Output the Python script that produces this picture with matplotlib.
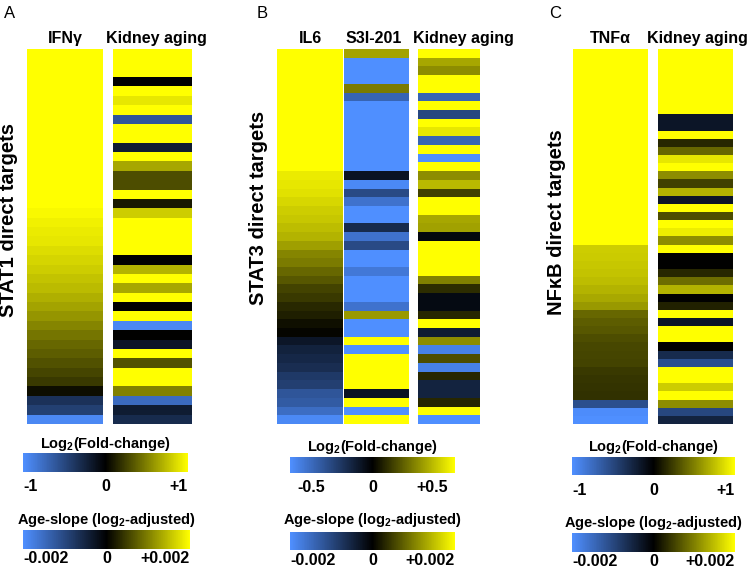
import numpy as np
import matplotlib
matplotlib.use('Agg')
import matplotlib.pyplot as plt
from matplotlib.colors import LinearSegmentedColormap, Normalize
from matplotlib.cm import ScalarMappable
import matplotlib.transforms as mtransforms

plt.rcParams['font.family'] = ['Liberation Sans', 'DejaVu Sans']
plt.rcParams['mathtext.fontset'] = 'custom'
plt.rcParams['mathtext.rm'] = 'Liberation Sans:bold'
plt.rcParams['mathtext.bf'] = 'Liberation Sans:bold'
plt.rcParams['mathtext.it'] = 'Liberation Sans:bold'

# ---------------- data ----------------
# Panel A: STAT1 direct targets (40 genes)
ifng_log2fc = [1.0, 1.0, 1.0, 1.0, 1.0, 1.0, 1.0, 1.0, 1.0, 1.0,
               1.0, 1.0, 1.0, 1.0, 1.0, 1.0, 1.0, 0.97, 0.94, 0.92,
               0.90, 0.86, 0.83, 0.80, 0.76, 0.73, 0.68, 0.64, 0.58, 0.52,
               0.46, 0.40, 0.36, 0.32, 0.27, 0.22, 0.05, -0.35, -0.45, -0.95]
kidney_a_slope = [0.0025, 0.0022, 0.0020, 0.0, 0.0020, 0.0018, 0.0023, -0.0012, 0.0021, 0.0024,
                  -0.0004, 0.0020, 0.0013, 0.0006, 0.0006, 0.0022, 0.0002, 0.0016, 0.0020, 0.0023,
                  0.0021, 0.0024, 0.0, 0.0014, 0.0022, 0.0013, 0.0021, 0.0, 0.0023, -0.0019,
                  0.0, -0.0003, 0.0022, 0.00065, 0.0021, 0.0023, 0.0010, -0.0015, -0.0004, -0.0006]

# Panel B: STAT3 direct targets (43 genes)
il6_log2fc = [0.5, 0.5, 0.5, 0.5, 0.5, 0.5, 0.5, 0.5, 0.5, 0.5,
              0.5, 0.5, 0.5, 0.5, 0.46, 0.45, 0.44, 0.42, 0.40, 0.39,
              0.37, 0.35, 0.31, 0.26, 0.24, 0.20, 0.17, 0.13, 0.11, 0.08,
              0.06, 0.03, 0.01, -0.08, -0.12, -0.14, -0.16, -0.20, -0.22, -0.30,
              -0.32, -0.38, -0.48]
s3i201_log2fc = [0.32, -0.5, -0.5, -0.5, 0.24, -0.35, -0.5, -0.5, -0.5, -0.5,
                 -0.5, -0.5, -0.5, -0.5, -0.07, -0.48, -0.26, -0.4, -0.5, -0.5,
                 -0.15, -0.4, -0.26, -0.5, -0.5, -0.42, -0.5, -0.5, -0.5, -0.4,
                 0.3, -0.5, -0.5, 0.5, -0.5, 0.5, 0.5, 0.5, 0.5, -0.07,
                 0.5, -0.5, 0.5]
kidney_b_slope = [0.0025, 0.0013, 0.0011, 0.0023, 0.0022, -0.0014, 0.0024, -0.0010, 0.0022, 0.0018,
                  -0.0014, 0.0023, -0.0020, 0.0022, 0.0011, 0.00145, 0.0005, 0.0023, 0.0021, 0.0013,
                  0.00125, -0.0001, 0.0022, 0.0024, 0.0021, 0.0023, 0.0010, 0.00035, -0.00015, -0.00015,
                  0.0003, 0.0022, -0.0004, 0.0011, -0.0018, 0.0006, -0.0018, 0.0003, -0.0005, -0.0005,
                  0.0003, 0.0022, -0.0020]

# Panel C: NFkB direct targets (46 genes)
tnfa_log2fc = [1.0, 1.0, 1.0, 1.0, 1.0, 1.0, 1.0, 1.0, 1.0, 1.0,
               1.0, 1.0, 1.0, 1.0, 1.0, 1.0, 1.0, 1.0, 1.0, 1.0,
               1.0, 1.0, 1.0, 1.0, 0.80, 0.79, 0.78, 0.76, 0.74, 0.70,
               0.66, 0.60, 0.40, 0.36, 0.34, 0.30, 0.28, 0.27, 0.26, 0.22,
               0.21, 0.20, 0.19, -0.55, -0.98, -1.0]
kidney_c_slope = [0.0025, 0.0022, 0.0024, 0.0021, 0.0023, 0.0022, 0.0024, 0.0021, -0.0003, -0.0003,
                  0.0022, 0.0003, 0.0008, 0.0018, 0.0023, 0.0011, 0.0005, 0.0014, -0.0003, 0.0022,
                  0.0006, 0.0023, 0.00185, 0.0011, 0.0022, 0.0, 0.0, 0.0003, 0.00085, 0.0014,
                  0.0, 0.00025, 0.0022, -0.0003, 0.0023, 0.0021, 0.0, -0.0006, -0.0011, 0.0022,
                  0.0024, 0.0016, 0.0022, 0.0011, -0.0010, -0.0005]

# ---------------- figure ----------------
W, H = 754, 570
fig = plt.figure(figsize=(W / 100, H / 100), dpi=100)
cmap = LinearSegmentedColormap.from_list('bky', ['#4f8fff', '#000000', '#ffff00'])


def rect(x0, x1, y0, y1):
    return [x0 / W, 1 - y1 / H, (x1 - x0) / W, (y1 - y0) / H]


def heat(x0, x1, y0, y1, values, vmax, title, title_dx=0):
    ax = fig.add_axes(rect(x0, x1, y0, y1))
    ax.imshow(np.asarray(values)[:, None], aspect='auto', cmap=cmap,
              norm=Normalize(-vmax, vmax), interpolation='nearest')
    ax.set_axis_off()
    fig.text(((x0 + x1) / 2 + title_dx) / W, 1 - 43 / H, title, ha='center',
             va='baseline', fontsize=11.5, fontweight='bold')
    return ax


def cbar(x0, x1, y0, y1, vmax, ticks, labels, title, pad, tpad, dx=(0, 0)):
    cax = fig.add_axes(rect(x0, x1, y0, y1))
    cb = fig.colorbar(ScalarMappable(norm=Normalize(-vmax, vmax), cmap=cmap),
                      cax=cax, orientation='horizontal', ticks=ticks)
    cb.outline.set_visible(False)
    cax.set_xticklabels(labels, fontsize=11.5, fontweight='bold')
    cax.tick_params(length=0, pad=pad)
    tl = cax.get_xticklabels()
    tl[0].set_ha('left')
    tl[-1].set_ha('right')
    tl[0].set_transform(tl[0].get_transform() + mtransforms.ScaledTranslation(dx[0] / 100, 0, fig.dpi_scale_trans))
    tl[-1].set_transform(tl[-1].get_transform() + mtransforms.ScaledTranslation(dx[1] / 100, 0, fig.dpi_scale_trans))
    cax.set_title(title, fontsize=10.5, fontweight='bold', pad=tpad)
    return cb


log2_title = 'Log$_2$(Fold-change)'
age_title = 'Age-slope (log$_2$-adjusted)'

# Panel A
fig.text(10 / W, 1 - 13 / H, 'A', fontsize=12, ha='center', va='center')
heat(27, 103, 49, 424, ifng_log2fc, 1.0, 'IFNγ')
heat(113, 192, 49, 424, kidney_a_slope, 0.002, 'Kidney aging', title_dx=4)
fig.text(9 / W, 1 - 220 / H, 'STAT1 direct targets', rotation=90, ha='center',
         va='center', fontsize=14.5, fontweight='bold')
cbar(23, 188, 453, 472, 1.0, [-1, 0, 1], ['-1', '0', '+1'], log2_title, 5, 3)
cbar(23, 190, 530, 549, 0.002, [-0.002, 0, 0.002], ['-0.002', '0', '+0.002'], age_title, 1.5, 4)

# Panel B
fig.text(262 / W, 1 - 13 / H, 'B', fontsize=12, ha='center', va='center')
heat(277, 343, 49, 424, il6_log2fc, 0.5, 'IL6')
heat(344, 409, 49, 424, s3i201_log2fc, 0.5, 'S3I-201', title_dx=-3)
heat(418, 480, 49, 424, kidney_b_slope, 0.002, 'Kidney aging', title_dx=14)
fig.text(259 / W, 1 - 208 / H, 'STAT3 direct targets', rotation=90, ha='center',
         va='center', fontsize=14.5, fontweight='bold')
cbar(290, 455, 457, 473, 0.5, [-0.5, 0, 0.5], ['-0.5', '0', '+0.5'], log2_title, 5, 4, dx=(7, -7))
cbar(290, 455, 532, 550, 0.002, [-0.002, 0, 0.002], ['-0.002', '0', '+0.002'], age_title, 2, 6)

# Panel C
fig.text(555 / W, 1 - 13 / H, 'C', fontsize=12, ha='center', va='center')
heat(573, 648, 49, 424, tnfa_log2fc, 1.0, 'TNFα')
heat(658, 733, 49, 424, kidney_c_slope, 0.002, 'Kidney aging', title_dx=2)
fig.text(556 / W, 1 - 222 / H, 'NFκB direct targets', rotation=90, ha='center',
         va='center', fontsize=14.5, fontweight='bold')
cbar(572, 735, 457, 475, 1.0, [-1, 0, 1], ['-1', '0', '+1'], log2_title, 6, 4)
cbar(572, 735, 533, 552, 0.002, [-0.002, 0, 0.002], ['-0.002', '0', '+0.002'], age_title, 1.5, 4)

fig.savefig('out.png', dpi=100)
